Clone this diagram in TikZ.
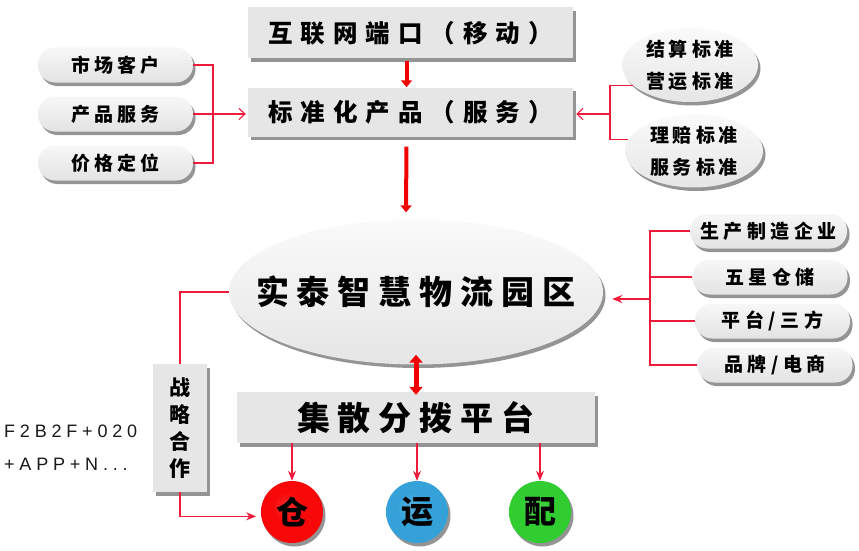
\documentclass[tikz,border=0pt]{standalone}
\usepackage{fontspec}
\setmainfont{Liberation Sans}
\newfontfamily\cjk{Noto Sans CJK SC}
\usetikzlibrary{arrows.meta,shadows,shapes.geometric}
\makeatletter
\newcommand\lsp[2]{\begingroup\def\lsp@k{#1}\lsp@first#2\relax\endgroup}
\def\lsp@first#1{\ifx\relax#1\else#1\expandafter\lsp@i\fi}
\def\lsp@i#1{\ifx\relax#1\else\kern\lsp@k#1\expandafter\lsp@i\fi}
\makeatother
\definecolor{boxgray}{HTML}{E6E6E6}
\definecolor{lnred}{HTML}{EE1C3A}
\definecolor{arred}{HTML}{F00000}
\definecolor{ballred}{HTML}{F80808}
\definecolor{ballblue}{HTML}{34A2D8}
\definecolor{ballgreen}{HTML}{30CC30}
\pgfdeclareradialshading{redball}{\pgfpoint{-5bp}{5bp}}{color(0bp)=(ballred!85!white); color(12bp)=(ballred); color(37bp)=(ballred); color(50bp)=(ballred!45!black)}
\pgfdeclareradialshading{blueball}{\pgfpoint{-5bp}{5bp}}{color(0bp)=(ballblue!85!white); color(12bp)=(ballblue); color(37bp)=(ballblue); color(50bp)=(ballblue!45!black)}
\pgfdeclareradialshading{greenball}{\pgfpoint{-5bp}{5bp}}{color(0bp)=(ballgreen!85!white); color(12bp)=(ballgreen); color(37bp)=(ballgreen); color(50bp)=(ballgreen!45!black)}
\tikzset{
  sh/.style={drop shadow={shadow xshift=2.5pt,shadow yshift=-3.5pt,fill=black!60,opacity=0.7}},
  graybox/.style={rectangle,fill=boxgray,sh,inner sep=0pt},
  pill/.style={rectangle,rounded corners=17pt,top color=gray!6,bottom color=gray!22,sh,
     minimum height=35pt,minimum width=155pt,inner sep=0pt,font=\cjk\bfseries\fontsize{19}{22}\selectfont},
  oval/.style={ellipse,top color=gray!4,bottom color=gray!20,sh,inner sep=0pt},
  ball/.style={circle,minimum size=62pt,inner sep=0pt,sh,font=\cjk\bfseries\fontsize{32}{34}\selectfont},
  thinred/.style={draw=lnred,line width=1.1pt},
  openarr/.style={thinred,-{Straight Barb[length=6pt,width=11pt]}},
  fillarr/.style={thinred,-{Stealth[length=10pt,width=8pt]}},
  bigarr/.style={draw=arred,line width=4pt,-{Triangle[length=7pt,width=11pt]}},
  dblarr/.style={draw=arred,line width=5pt,{Triangle[length=8pt,width=13pt]}-{Triangle[length=8pt,width=13pt]}}
}
\begin{document}
\begin{tikzpicture}[x=1pt,y=-1pt]
\useasboundingbox (0,0) rectangle (859,551);
% top boxes
\node[graybox,minimum width=325pt,minimum height=51pt,font=\cjk\bfseries\fontsize{24.5}{28}\selectfont] (top) at (410.5,33) {\lsp{8pt}{互联网端口（移动）}};
\node[graybox,minimum width=325pt,minimum height=49pt,font=\cjk\bfseries\fontsize{24.5}{28}\selectfont] (prod) at (410.5,112) {\lsp{8pt}{标准化产品（服务）}};
% left pills
\node[pill] (p1) at (115.5,65) {\lsp{4pt}{市场客户}};
\node[pill] (p2) at (115.5,114) {\lsp{4pt}{产品服务}};
\node[pill] (p3) at (115.5,163) {\lsp{4pt}{价格定位}};
% right ellipses
\node[oval,inner ysep=-4pt,minimum width=136pt,minimum height=74pt,align=center,font=\cjk\bfseries\fontsize{19}{32}\selectfont] (e1) at (690,65) {\lsp{4pt}{结算标准}\\\lsp{4pt}{营运标准}};
\node[oval,inner ysep=-4pt,minimum width=138pt,minimum height=73pt,align=center,font=\cjk\bfseries\fontsize{19}{32}\selectfont] (e2) at (694,151) {\lsp{4pt}{理赔标准}\\\lsp{4pt}{服务标准}};
% park
\node[oval,inner xsep=-29pt,minimum width=374pt,minimum height=145pt,font=\cjk\bfseries\fontsize{33}{36}\selectfont] (park) at (416,292) {\lsp{8pt}{实泰智慧物流园区}};
% right pills
\node[pill,minimum width=157pt] (r1) at (768.5,231) {\lsp{4.6pt}{生产制造企业}};
\node[pill] (r2) at (770,277) {\lsp{4.6pt}{五星仓储}};
\node[pill] (r3) at (772.5,321) {\lsp{4.6pt}{平台/三方}};
\node[pill] (r4) at (775,365) {\lsp{4.6pt}{品牌/电商}};
% hub
\node[graybox,minimum width=358pt,minimum height=51pt,font=\cjk\bfseries\fontsize{33}{36}\selectfont] (hub) at (416,417.5) {\lsp{8pt}{集散分拨平台}};
% cooperation
\node[graybox,minimum width=54pt,minimum height=128pt,align=center,font=\cjk\bfseries\fontsize{21}{27}\selectfont] (coop) at (180,428) {战\\略\\合\\作};
% balls
\node[ball,shading=redball] (c1) at (292,512) {仓};
\node[ball,shading=blueball] (c2) at (417,512) {运};
\node[ball,shading=greenball] (c3) at (540,512) {配};
% latin text
\node[anchor=west,align=left,inner sep=0pt,text=black!90,font=\fontsize{18}{33}\selectfont] (txt) at (4,448) {\lsp{4.8pt}{F2B2F+020}\\\lsp{4.8pt}{+APP+N...}};
% junctions
\coordinate (jl) at (213,114);
\coordinate (jr) at (610,114);
\coordinate (jr2) at (650,299);
% left connectors
\draw[thinred] (p1.east) -| (jl);
\draw[thinred] (p3.east) -| (jl);
\draw[thinred] (p2.east) -- (jl);
\draw[openarr] (jl) -- ([xshift=-2pt]prod.west |- jl);
% right top connectors
\draw[thinred] (e1.200) -- (e1.200 -| jr) -- (e2.170 -| jr) -- (e2.170);
\draw[openarr] (jr) -- ([xshift=3pt]prod.east |- jr);
% right middle connectors
\draw[thinred] (r1.west) -| (jr2);
\draw[thinred] (r4.west) -| (jr2);
\draw[thinred] (r2.west) -- (r2.west -| jr2);
\draw[thinred] (r3.west) -- (r3.west -| jr2);
\draw[fillarr,line width=1.8pt,shorten >=9pt] (jr2) -- (park.east |- jr2);
% big arrows
\draw[bigarr,shorten <=2pt] ([xshift=-4pt]top.south) -- ([xshift=-4pt]prod.north);
\draw[bigarr,shorten <=10pt,shorten >=7pt] ([xshift=-4pt]prod.south) -- ([xshift=-10pt]park.north);
\draw[dblarr] ([yshift=10pt]park.south) -- ([yshift=-3pt]hub.north);
% cooperation connectors
\draw[thinred] (park.west) -| (coop.north);
\draw[fillarr,shorten >=5pt] (coop.south) |- (c1.188);
% hub to balls
\draw[fillarr] (hub.south -| c1) -- (c1.north);
\draw[fillarr] (hub.south -| c2) -- (c2.north);
\draw[fillarr] (hub.south -| c3) -- (c3.north);
\end{tikzpicture}
\end{document}
